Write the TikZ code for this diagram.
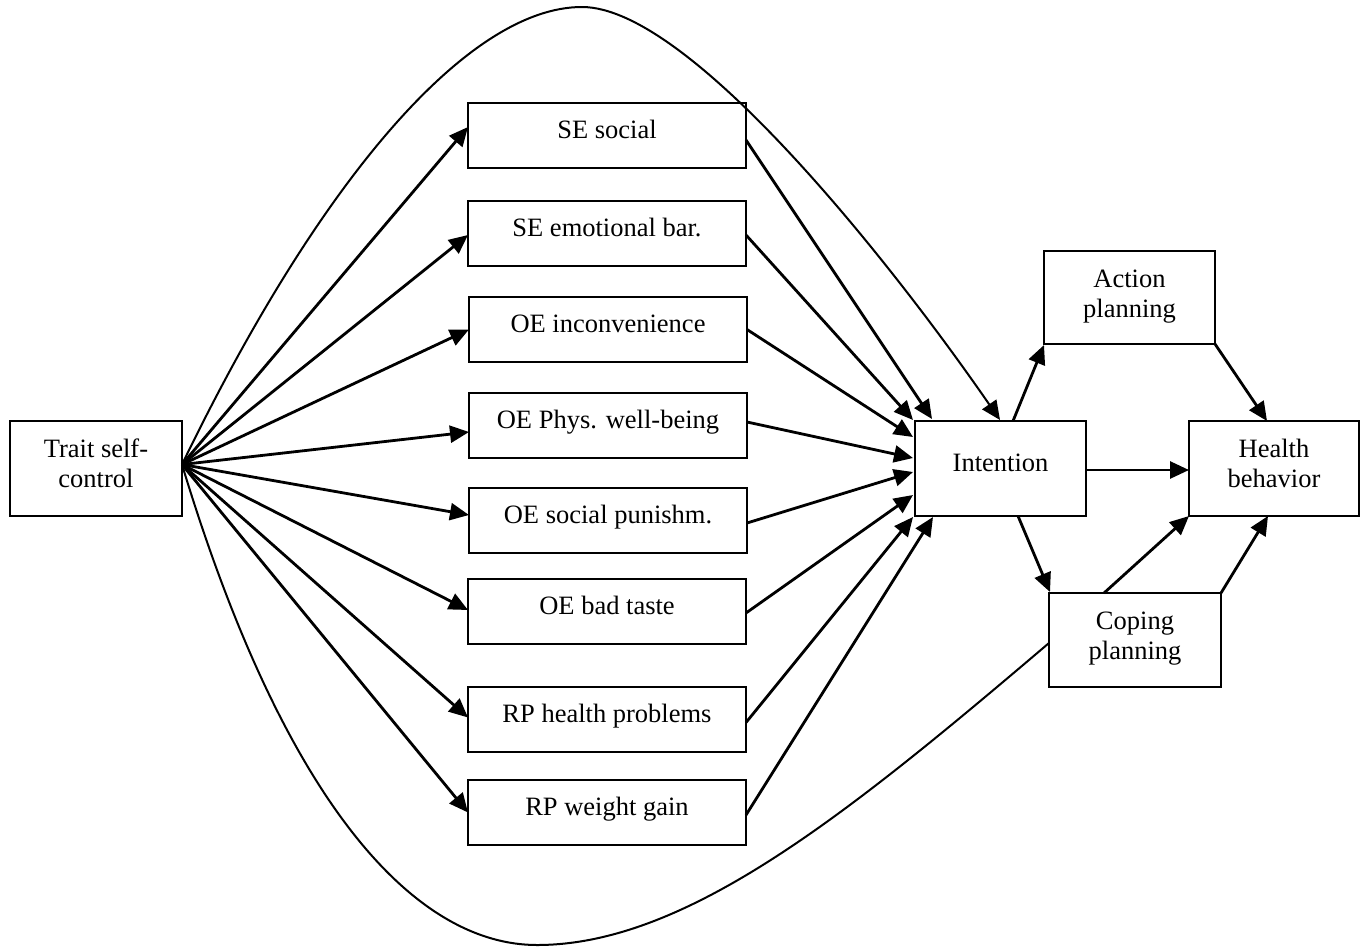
\documentclass[tikz,border=0pt]{standalone}
\usepackage{fontspec}
\setmainfont{Liberation Serif}
\usetikzlibrary{arrows.meta,calc}
\newcommand{\twoln}[2]{\begin{tabular}[b]{@{}c@{}}#1\\#2\end{tabular}}
\begin{document}
\begin{tikzpicture}[x=1pt,y=-1pt,
  box/.style={draw, line width=2.3pt, inner sep=0pt, outer sep=0pt, anchor=north west,
    font=\fontsize{26.5}{30}\selectfont},
  mid/.style={box, minimum width=278pt, text height=35.5pt, text depth=29.5pt},
  tip/.style={-{Triangle[length=19pt,width=17pt]}},
  arr/.style={tip, line width=2.8pt},
  curve/.style={line width=2pt}]
\useasboundingbox (0,0) rectangle (1367,948);
\fill[white] (0,0) rectangle (1367,948);

% nodes
\node[box, minimum width=172pt, text height=66pt, text depth=29pt] (trait) at (10,421) {\twoln{Trait self-}{control}};
\node[mid] (se1) at (468,103) {SE social};
\node[mid] (se2) at (468,201) {SE emotional bar.};
\node[mid] (oe1) at (469,297) {OE inconvenience};
\node[mid] (oe2) at (469,393) {OE Phys. well-being};
\node[mid] (oe3) at (469,488) {OE social punishm.};
\node[mid] (oe4) at (468,579) {OE bad taste};
\node[mid] (rp1) at (468,687) {RP health problems};
\node[mid] (rp2) at (468,780) {RP weight gain};
\node[box, minimum width=171pt, text height=50.7pt, text depth=44.3pt] (int) at (915,421) {Intention};
\node[box, minimum width=171pt, text height=66pt, text depth=27pt] (act) at (1044,251) {\twoln{Action}{planning}};
\node[box, minimum width=170pt, text height=66.5pt, text depth=28.5pt] (hb) at (1189,421) {\twoln{Health}{behavior}};
\node[box, minimum width=172pt, text height=66pt, text depth=28pt] (cop) at (1049,593) {\twoln{Coping}{planning}};

\coordinate (fan) at ($(trait.east)+(0,-4)$);
\coordinate (topc) at (582,7);
\coordinate (botc) at (537,945);

% fan from trait
\draw[arr] (fan) -- ($(se1.west)+(0,-8.5)$);
\draw[arr] (fan) -- ($(se2.west)+(0,1.5)$);
\draw[arr] (fan) -- (oe1.west);
\draw[arr] (fan) -- ($(oe2.west)+(0,6.5)$);
\draw[arr] (fan) -- ($(oe3.west)+(0,-5.5)$);
\draw[arr] (fan) -- ($(oe4.west)+(0,-1.5)$);
\draw[arr] (fan) -- ($(rp1.west)+(0,-2)$);
\draw[arr] (fan) -- (rp2.west);

% to intention
\draw[arr] ($(se1.east)+(0,4.5)$) -- ($(int.north west)+(17,-2)$);
\draw[arr] ($(se2.east)+(0,1.5)$) -- ($(int.north west)+(-2,-1)$);
\draw[arr] (oe1.east) -- ($(int.north west)+(-2,16)$);
\draw[arr] ($(oe2.east)+(0,-3.5)$) -- ($(int.north west)+(-2,37)$);
\draw[arr] ($(oe3.east)+(0,2.5)$) -- ($(int.north west)+(-2,51)$);
\draw[arr] ($(oe4.east)+(0,1.5)$) -- ($(int.north west)+(-2,74)$);
\draw[arr] ($(rp1.east)+(0,3)$) -- ($(int.south west)+(-2,1)$);
\draw[arr] ($(rp2.east)+(0,2.5)$) -- ($(int.south west)+(18,1)$);

% long curves
\draw[curve, tip] (fan) .. controls (322,175) and (470,7) .. (topc)
  .. controls (690,7) and (893,265) .. ($(int.north west)+(85,-1)$);
\draw[curve] (fan) .. controls (288,815) and (420,945) .. (botc)
  .. controls (687,945) and (849,813) .. ($(cop.west)+(0,3)$);

% right part
\draw[arr] ($(int.north west)+(98,0)$) -- ($(act.south west)+(0,1)$);
\draw[arr] ($(int.east)+(0,1.5)$) -- ($(hb.west)+(0,1.5)$);
\draw[arr] ($(int.south west)+(103,0)$) -- ($(cop.north west)+(1,-1)$);
\draw[arr] (act.south east) -- ($(hb.north west)+(78,0)$);
\draw[arr] ($(cop.north west)+(55,0)$) -- (hb.south west);
\draw[arr] (cop.north east) -- ($(hb.south west)+(79,0)$);
\end{tikzpicture}
\end{document}
